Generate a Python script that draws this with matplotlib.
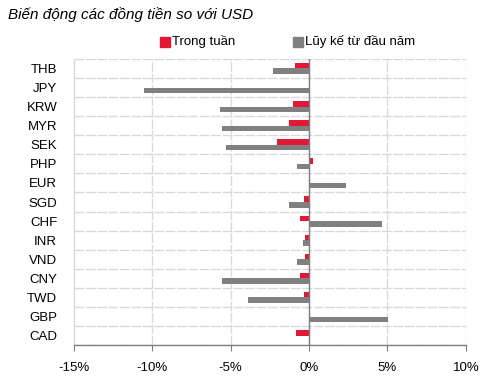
import matplotlib
matplotlib.use("Agg")
import matplotlib.pyplot as plt
from matplotlib.patches import Rectangle
from matplotlib import font_manager
import numpy as np

currencies = ["THB", "JPY", "KRW", "MYR", "SEK", "PHP", "EUR", "SGD",
              "CHF", "INR", "VND", "CNY", "TWD", "GBP", "CAD"]
weekly = [-0.87, 0.03, -1.02, -1.30, -2.02, 0.28, 0.03, -0.34,
          -0.57, -0.28, -0.23, -0.60, -0.34, 0.01, -0.82]
ytd = [-2.27, -10.50, -5.71, -5.54, -5.29, -0.77, 2.34, -1.30,
       4.62, -0.40, -0.77, -5.54, -3.88, 5.04, 0.02]
xticks = [-15, -10, -5, 0, 5, 10]
xtick_labels = ["-15%", "-10%", "-5%", "0%", "5%", "10%"]
title = "Biến động các đồng tiền so với USD"
legend_labels = ["Trong tuần", "Lũy kế từ đầu năm"]

avail = {f.name for f in font_manager.fontManager.ttflist}
fam = "Liberation Sans Narrow" if "Liberation Sans Narrow" in avail else "Liberation Sans"
plt.rcParams["font.family"] = [fam, "DejaVu Sans"]

RED = "#E31837"
GRAY = "#808080"
GRID = "#D9D9D9"

fig = plt.figure(figsize=(4.92, 3.90), dpi=100)
ax = fig.add_axes([0.150, 0.115, 0.797, 0.734])

n = len(currencies)
y = np.arange(n)
h = 0.29
ax.barh(y - 0.145, weekly, height=h, color=RED, zorder=3)
ax.barh(y + 0.145, ytd, height=h, color=GRAY, zorder=3)

ax.set_xlim(-15, 10)
ax.set_ylim(n - 0.5, -0.5)

# grid
for b in np.arange(-0.5, n, 1.0):
    ax.axhline(b, color=GRID, lw=1.0, ls=(0, (7, 1.2)), zorder=1)
for xv in xticks[1:]:
    ax.axvline(xv, color=GRID, lw=1.0, ls=(0, (7, 1.2)), zorder=1)
ax.axvline(0, color="#7F7F7F", lw=1.0, zorder=4)

for s in ["top", "right"]:
    ax.spines[s].set_visible(False)
ax.spines["left"].set_color(GRID)
ax.spines["left"].set_linewidth(1.0)
ax.spines["bottom"].set_color("#7F7F7F")
ax.spines["bottom"].set_linewidth(1.0)

ax.set_xticks(xticks)
ax.set_xticklabels(xtick_labels, fontsize=9.5)
ax.tick_params(axis="x", direction="out", length=4, color="#7F7F7F", pad=8)
ax.set_yticks(y)
ax.set_yticklabels(currencies, fontsize=9.5)
ax.tick_params(axis="y", length=0, pad=12)

fig.text(0.016, 0.962, title, fontsize=11, style="italic", va="center", ha="left")

# legend
fig.patches.append(Rectangle((160/492, 1-47/390), 10/492, 10/390, transform=fig.transFigure,
                             color=RED, figure=fig))
fig.text(172/492, 1-42/390, legend_labels[0], fontsize=9.5, va="center", ha="left")
fig.patches.append(Rectangle((293/492, 1-47/390), 10/492, 10/390, transform=fig.transFigure,
                             color=GRAY, figure=fig))
fig.text(305/492, 1-42/390, legend_labels[1], fontsize=9.5, va="center", ha="left")

fig.savefig("out.png", dpi=100)
